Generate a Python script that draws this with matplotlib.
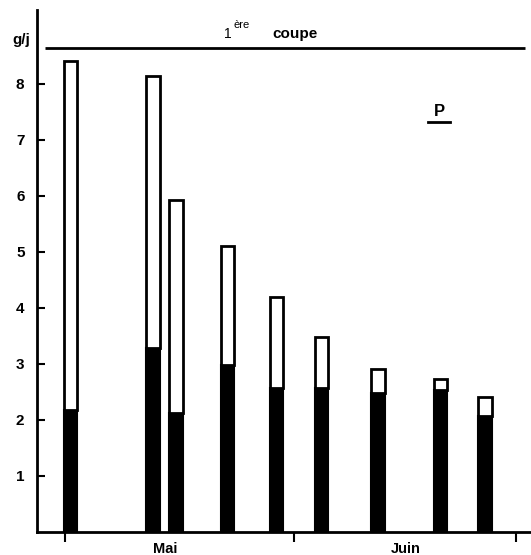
import matplotlib
matplotlib.use("Agg")
import matplotlib.pyplot as plt

# days counted from 1 May
days = [0.7, 11.9, 15.0, 22.0, 28.6, 34.7, 42.3, 50.8, 56.8]
total = [8.41, 8.14, 5.93, 5.11, 4.20, 3.48, 2.91, 2.73, 2.41]
black = [2.18, 3.29, 2.12, 2.98, 2.57, 2.57, 2.48, 2.54, 2.07]
month_ticks = [0, 31, 61]
month_labels = ["Mai", "Juin"]
month_label_pos = [13.5, 46.0]
yticks = [1, 2, 3, 4, 5, 6, 7, 8]
cut_level = 8.64

plt.rcParams['font.family'] = ['Liberation Sans', 'DejaVu Sans']
plt.rcParams['font.weight'] = 'bold'

fig = plt.figure(figsize=(5.31, 5.55), dpi=100)
ax = fig.add_axes([37 / 531, 23 / 555, (531 - 37) / 531, (532 - 10) / 555])

w = 1.8
top_part = [t - b for t, b in zip(total, black)]
ax.bar(days, black, width=w, color="black", edgecolor="black", linewidth=1.5)
ax.bar(days, top_part, bottom=black, width=w, color="white", edgecolor="black", linewidth=2)

# line marking the first cut
ax.hlines(cut_level, -2.7, 62.2, color="black", linewidth=2)

ax.set_xlim(-3.8, 63.0)
ax.set_ylim(0, 9.32)
ax.spines['top'].set_visible(False)
ax.spines['right'].set_visible(False)
ax.spines['left'].set_linewidth(2)
ax.spines['bottom'].set_linewidth(2)

ax.set_yticks(yticks)
ax.set_yticklabels([str(v) for v in yticks], fontsize=11, fontweight='bold')
ax.tick_params(axis='y', direction='in', length=6, width=1.5, pad=9)
ax.set_xticks(month_ticks)
ax.set_xticklabels([])
ax.tick_params(axis='x', direction='out', length=7, width=1.5)

for pos, lab in zip(month_label_pos, month_labels):
    ax.text(pos, -0.17, lab, ha='center', va='top', fontsize=10.5, fontweight='bold')

fig.text(21 / 531, 1 - 40 / 555, "g/j", ha='center', va='center', fontsize=11, fontweight='bold')
fig.text(228 / 531, 1 - 34 / 555, "1", ha='center', va='center', fontsize=10, fontweight='normal')
fig.text(233 / 531, 1 - 25 / 555, "ère", ha='left', va='center', fontsize=8, fontweight='normal')
fig.text(295 / 531, 1 - 34 / 555, "coupe", ha='center', va='center', fontsize=11, fontweight='bold')
fig.text(439 / 531, 1 - 112 / 555, "P", ha='center', va='center', fontsize=12, fontweight='bold')
fig.add_artist(plt.Line2D([428 / 531, 450 / 531], [1 - 122 / 555, 1 - 122 / 555],
                          color='black', linewidth=2))

fig.savefig("out.png", dpi=100)
